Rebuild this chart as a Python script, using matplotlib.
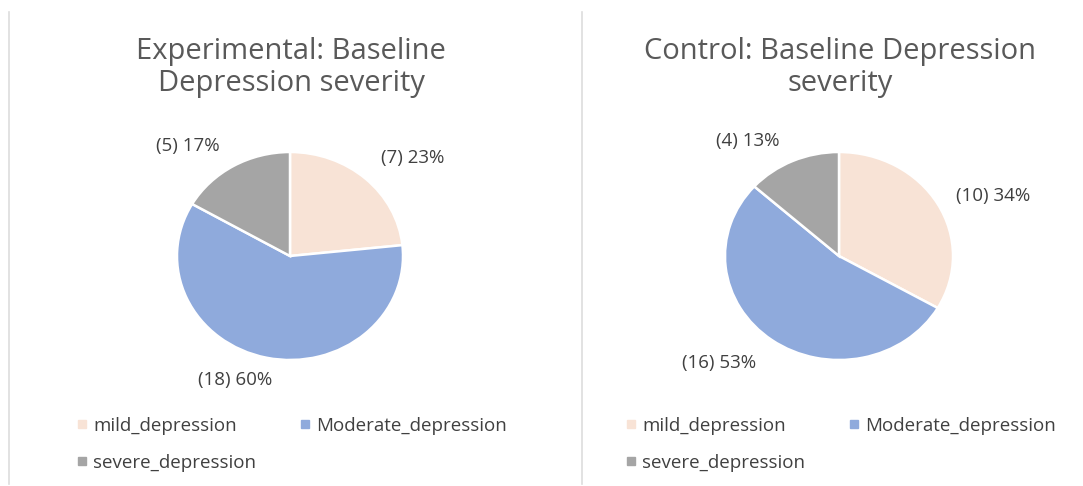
import matplotlib
matplotlib.use("Agg")
import matplotlib.pyplot as plt
from matplotlib.lines import Line2D

# ---- data ----
categories = ["mild_depression", "Moderate_depression", "severe_depression"]
exp_counts = [7, 18, 5]
exp_pct = [23, 60, 17]
ctrl_counts = [10, 16, 4]
ctrl_pct = [34, 53, 13]
titles = [("Experimental: Baseline", "Depression severity"),
          ("Control: Baseline Depression", "severity")]

# ---- style ----
colors = ["#F8E3D6", "#8FAADC", "#A5A5A5"]
title_color = "#595959"
text_color = "#404040"
plt.rcParams['font.family'] = ['Open Sans', 'DejaVu Sans']

W, H = 1083, 486
fig = plt.figure(figsize=(W / 100, H / 100), dpi=100)
fig.patch.set_facecolor("white")

def px_axes(cx, cy, rx, ry):
    return fig.add_axes([(cx - rx) / W, 1 - (cy + ry) / H, 2 * rx / W, 2 * ry / H])

# label positions in pie-radius units (mild, moderate, severe)
label_pos = [
    [(1.09, 0.94), (-0.49, -1.19), (-0.90, 1.06)],
    [(1.35, 0.58), (-1.05, -1.03), (-0.80, 1.11)],
]
pies = [
    dict(cx=290, cy=256, rx=113, ry=104, counts=exp_counts, pct=exp_pct,
         title_x=291, leg_x=78),
    dict(cx=839, cy=256, rx=114, ry=104, counts=ctrl_counts, pct=ctrl_pct,
         title_x=840, leg_x=627),
]

for i, p in enumerate(pies):
    ax = px_axes(p["cx"], p["cy"], p["rx"], p["ry"])
    ax.pie(p["counts"], colors=colors, startangle=90, counterclock=False,
           radius=1.0, wedgeprops=dict(edgecolor="white", linewidth=1.8))
    ax.set_aspect("auto")
    ax.set_xlim(-1, 1)
    ax.set_ylim(-1, 1)
    ax.axis("off")
    for (lx, ly), c, pc in zip(label_pos[i], p["counts"], p["pct"]):
        ax.text(lx, ly, f"({c}) {pc}%", ha="center", va="center",
                fontsize=13.5, color=text_color, clip_on=False)
    for line, base in zip(titles[i], (59, 91)):
        fig.text(p["title_x"] / W, 1 - base / H, line, ha="center",
                 va="baseline", fontsize=21, color=title_color)
    handles = [Line2D([], [], marker="s", markersize=5.2, linestyle="none",
                      color=c) for c in colors]
    order = [0, 2, 1]
    fig.legend([handles[k] for k in order], [categories[k] for k in order],
               ncol=2, loc="upper left",
               bbox_to_anchor=(p["leg_x"] / W, 1 - 417 / H),
               frameon=False, fontsize=13.5, labelcolor=text_color,
               handlelength=0.4, handletextpad=0.4, columnspacing=2.4,
               labelspacing=1.0, borderpad=0, borderaxespad=0)

for x in (9, 582):
    fig.add_artist(Line2D([x / W, x / W], [1 - 12 / H, 1 - 484 / H],
                          color="#DDDDDD", linewidth=1.2))

fig.savefig("out.png", dpi=100, facecolor="white")
